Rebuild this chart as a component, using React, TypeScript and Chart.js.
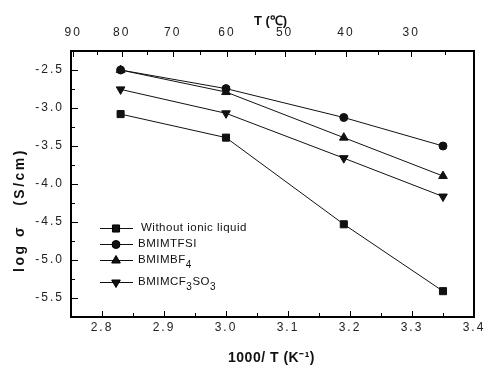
import React, { useEffect, useRef } from 'react';
import { Chart, registerables } from 'chart.js';
import { drawPoint } from 'chart.js/helpers';

Chart.register(...registerables);

// 1000/T (K^-1) positions of the measurements
const invT = [2.83, 3.0, 3.19, 3.35];
// log sigma (S/cm)
const withoutIL = [-3.08, -3.39, -4.53, -5.41];
const tfsi = [-2.5, -2.745, -3.125, -3.5];
const bf4 = [-2.5, -2.79, -3.39, -3.895];
const cf3so3 = [-2.755, -3.07, -3.66, -4.165];

const xMajor = [2.8, 2.9, 3.0, 3.1, 3.2, 3.3, 3.4];
const xMinor = [2.75, 2.85, 2.95, 3.05, 3.15, 3.25, 3.35];
const yMajor = [-2.5, -3.0, -3.5, -4.0, -4.5, -5.0, -5.5];
const yMinor = [-2.25, -2.75, -3.25, -3.75, -4.25, -4.75, -5.25, -5.75];
const tMajor = [90, 80, 70, 60, 50, 40, 30];
const tMinor = [85, 75, 65, 55, 45, 35, 25];

const seriesNames = ['Without ionic liquid', 'BMIMTFSI', 'BMIMBF4', 'BMIMCF3SO3'];
// legend text split into [text, isSubscript] parts
const legendParts: [string, boolean][][] = [
  [['Without ionic liquid', false]],
  [['BMIMTFSI', false]],
  [['BMIMBF', false], ['4', true]],
  [['BMIMCF', false], ['3', true], ['SO', false], ['3', true]],
];

const xTitle = '1000/ T (K⁻¹)';
const x2Title = 'T (℃)';
const yTitle = 'log σ   (S/cm)';

export default function App() {
  const ref = useRef<HTMLCanvasElement>(null);

  useEffect(() => {
    const canvas = ref.current!;
    const family = '"Liberation Sans", Arial, sans-serif';
    const ink = '#111';
    const markers = [
      { pointStyle: 'rect', radius: 5, rotation: 0 },
      { pointStyle: 'circle', radius: 4, rotation: 0 },
      { pointStyle: 'triangle', radius: 5, rotation: 0 },
      { pointStyle: 'triangle', radius: 5, rotation: 180 },
    ];
    const seriesData = [withoutIL, tfsi, bf4, cf3so3];
    const isIn = (list: number[], v: number) => list.some((m) => Math.abs(m - v) < 1e-6);
    const toT = (v: number) => Math.round(1000 / v - 273.15);

    const decor = {
      id: 'decor',
      beforeDraw(chart: any) {
        chart.ctx.letterSpacing = '2px';
      },
      afterDraw(chart: any) {
        const ctx = chart.ctx as CanvasRenderingContext2D;
        const a = chart.chartArea;
        const xs = chart.scales.x, x2 = chart.scales.x2, ys = chart.scales.y;
        ctx.save();
        ctx.letterSpacing = '0px';
        // frame (2px)
        const L = Math.round(a.left), R = Math.round(a.right), T = Math.round(a.top), B = Math.round(a.bottom);
        ctx.fillStyle = '#000';
        ctx.fillRect(L - 1, T - 1, R - L + 2, 2);
        ctx.fillRect(L - 1, B - 1, R - L + 2, 2);
        ctx.fillRect(L - 1, T - 1, 2, B - T + 2);
        ctx.fillRect(R - 1, T - 1, 2, B - T + 2);
        // inward tick marks
        xs.ticks.forEach((t: any) => {
          const px = Math.round(xs.getPixelForValue(t.value));
          const len = isIn(xMajor, t.value) ? 6 : 4;
          ctx.fillRect(px, B - len, 1, len);
        });
        x2.ticks.forEach((t: any) => {
          const px = Math.round(x2.getPixelForValue(t.value));
          const len = tMajor.includes(toT(t.value)) ? 6 : 4;
          ctx.fillRect(px, T, 1, len);
        });
        ys.ticks.forEach((t: any) => {
          const py = Math.round(ys.getPixelForValue(t.value));
          const len = isIn(yMajor, t.value) ? 7 : 4;
          ctx.fillRect(L, py, len, 1);
        });

        // axis titles
        ctx.fillStyle = ink;
        ctx.textAlign = 'center';
        ctx.textBaseline = 'middle';
        const cx = (a.left + a.right) / 2;
        ctx.font = `bold 14px ${family}`;
        ctx.letterSpacing = '0.5px';
        ctx.fillText(xTitle, cx - 1, a.bottom + 41);
        ctx.font = `bold 13px ${family}`;
        ctx.letterSpacing = '0px';
        ctx.fillText(x2Title, cx - 2, a.top - 30);
        ctx.save();
        ctx.translate(a.left - 51, (a.top + a.bottom) / 2 + 26);
        ctx.rotate(-Math.PI / 2);
        ctx.font = `bold 14px ${family}`;
        ctx.letterSpacing = '2.5px';
        ctx.fillText(yTitle, 0, 0);
        ctx.restore();

        // legend
        const rowsY = [177, 193, 209, 231];
        ctx.textAlign = 'left';
        ctx.letterSpacing = '0.5px';
        legendParts.forEach((parts, i) => {
          const y = a.top + rowsY[i];
          ctx.fillStyle = ink;
          ctx.fillRect(a.left + 29, y, 33, 1);
          drawPoint(ctx, { ...markers[i], borderWidth: 1 } as any, a.left + 45, y + 0.5);
          let tx = a.left + (i === 0 ? 70 : 67);
          parts.forEach(([txt, sub]) => {
            ctx.font = sub ? `10px ${family}` : `11.5px ${family}`;
            ctx.fillText(txt, tx, sub ? y + 5 : y);
            tx += ctx.measureText(txt).width;
          });
        });
        ctx.restore();
      },
    };

    const tickFont = { family, size: 12 };
    const noSidePad = (s: any, h: number) => {
      s.height = h;
      s.paddingLeft = 0;
      s.paddingRight = 0;
    };
    const chart = new Chart(canvas, {
      type: 'scatter',
      data: {
        datasets: seriesData.map((arr, i) => ({
          label: seriesNames[i],
          data: invT.map((x, j) => ({ x, y: arr[j] })),
          showLine: true,
          borderColor: ink,
          backgroundColor: ink,
          borderWidth: 1,
          pointStyle: markers[i].pointStyle as any,
          pointRadius: markers[i].radius,
          pointRotation: markers[i].rotation,
          pointBorderWidth: 1,
        })),
      },
      options: {
        animation: false,
        responsive: false,
        devicePixelRatio: 1,
        layout: { padding: { left: 0, right: 10, top: 0, bottom: 0 } },
        plugins: { legend: { display: false }, tooltip: { enabled: false } },
        scales: {
          x: {
            type: 'linear',
            position: 'bottom',
            min: 2.75,
            max: 3.4,
            afterBuildTicks: (s: any) => {
              s.ticks = [...xMajor, ...xMinor].sort((p, q) => p - q).map((v) => ({ value: v }));
            },
            afterFit: (s: any) => noSidePad(s, 49),
            ticks: {
              autoSkip: false,
              maxRotation: 0,
              padding: 3,
              color: '#222',
              font: tickFont,
              callback: (v: any) => (isIn(xMajor, Number(v)) ? Number(v).toFixed(1) : ''),
            },
            grid: { display: false, drawTicks: false },
            border: { display: false },
          },
          x2: {
            type: 'linear',
            position: 'top',
            min: 2.75,
            max: 3.4,
            afterBuildTicks: (s: any) => {
              s.ticks = [...tMajor, ...tMinor]
                .map((T) => 1000 / (T + 273.15))
                .sort((p, q) => p - q)
                .map((v) => ({ value: v }));
            },
            afterFit: (s: any) => noSidePad(s, 51),
            ticks: {
              autoSkip: false,
              maxRotation: 0,
              padding: 11,
              color: '#222',
              font: tickFont,
              callback: (v: any) => {
                const T = toT(Number(v));
                return tMajor.includes(T) ? String(T) : '';
              },
            },
            grid: { display: false, drawTicks: false },
            border: { display: false },
          },
          y: {
            type: 'linear',
            position: 'left',
            min: -5.75,
            max: -2.25,
            afterBuildTicks: (s: any) => {
              s.ticks = [...yMajor, ...yMinor].sort((p, q) => p - q).map((v) => ({ value: v }));
            },
            afterFit: (s: any) => { s.width = 71; },
            ticks: {
              autoSkip: false,
              padding: 7,
              color: '#222',
              font: tickFont,
              callback: (v: any) => (isIn(yMajor, Number(v)) ? Number(v).toFixed(1) : ''),
            },
            grid: { display: false, drawTicks: false },
            border: { display: false },
          },
        },
      },
      plugins: [decor],
    });
    return () => chart.destroy();
  }, []);

  return (
    <div style={{ position: 'absolute', left: 0, top: 0, width: 484, height: 366, background: '#fff' }}>
      <canvas ref={ref} width={484} height={366} style={{ display: 'block' }} />
    </div>
  );
}
